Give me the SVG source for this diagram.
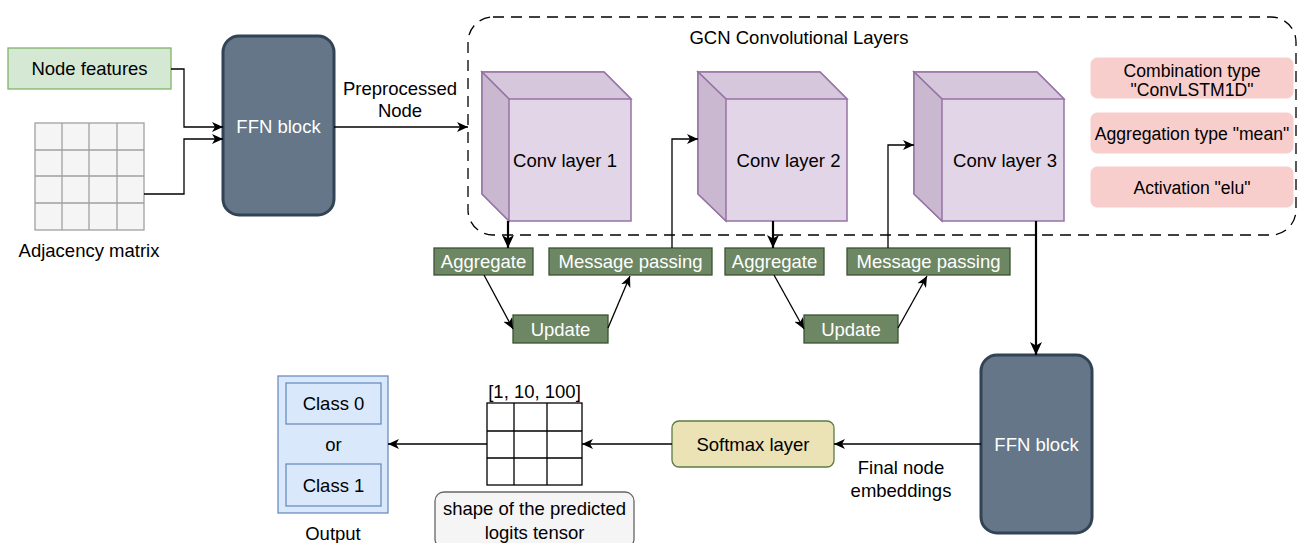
<svg xmlns="http://www.w3.org/2000/svg" width="1298" height="543" viewBox="0 0 1298 543">
<style>
text{font-family:"Liberation Sans",Arial,sans-serif;font-size:18.5px;fill:#000;text-anchor:middle}
.w{fill:#fff}
.s{font-size:17.6px}
.ffn{fill:#647687;stroke:#314354;stroke-width:3}
.grn{fill:#6d8764;stroke:#3a5431;stroke-width:1.3}
.pink{fill:#f8cecc;stroke:#f8cecc}
.cf{fill:#e1d5e7;stroke:#9673a6;stroke-width:1.5}
.ct{fill:#d6c7dc;stroke:#9673a6;stroke-width:1.5}
.cl{fill:#c9b8d0;stroke:#9673a6;stroke-width:1.5}
.c{fill:none;stroke:#000;stroke-width:1.3}
.t{fill:none;stroke:#000;stroke-width:2.2}
</style>
<defs>
<marker id="a" markerUnits="userSpaceOnUse" markerWidth="12" markerHeight="10" refX="11" refY="5" orient="auto">
<path d="M0,0 L11,5 L0,10 L3,5 z" fill="#000"/>
</marker>
<marker id="b" markerUnits="userSpaceOnUse" markerWidth="14" markerHeight="12" refX="13" refY="6" orient="auto">
<path d="M0,0 L13,6 L0,12 L3.5,6 z" fill="#000"/>
</marker>
</defs>

<rect id="gcn-frame" x="468" y="17" width="828" height="218" rx="25" fill="none" stroke="#000" stroke-width="1.3" stroke-dasharray="11,7"/>
<text x="799" y="44">GCN Convolutional Layers</text>

<g id="node-features">
<rect x="8" y="48" width="163" height="41" fill="#d5e8d4" stroke="#82b366" stroke-width="1.3"/>
<text x="89.5" y="75">Node features</text>
</g>

<g id="adjacency-matrix">
<rect x="35" y="123" width="109" height="107" fill="#f5f5f5" stroke="#a0a0a0" stroke-width="1.3"/>
<path d="M62,123V230M89,123V230M117,123V230M35,150H144M35,176H144M35,203H144" stroke="#a0a0a0" stroke-width="1.3" fill="none"/>
<text x="89" y="257">Adjacency matrix</text>
</g>

<g id="ffn1">
<rect class="ffn" x="223" y="36" width="111" height="179" rx="16"/>
<text class="w" x="278.5" y="133">FFN block</text>
</g>

<g id="conv1">
<path class="cf" d="M482,72H604L631,99V221H509L482,194Z"/>
<path class="ct" d="M482,72H604L631,99H509Z"/>
<path class="cl" d="M482,72L509,99V221L482,194Z"/>
<text x="565" y="167">Conv layer 1</text>
</g>
<g id="conv2">
<path class="cf" d="M698,72H820L847,99V221H726L698,194Z"/>
<path class="ct" d="M698,72H820L847,99H726Z"/>
<path class="cl" d="M698,72L726,99V221L698,194Z"/>
<text x="788.5" y="167">Conv layer 2</text>
</g>
<g id="conv3">
<path class="cf" d="M914,72H1037L1064,99V221H942L914,194Z"/>
<path class="ct" d="M914,72H1037L1064,99H942Z"/>
<path class="cl" d="M914,72L942,99V221L914,194Z"/>
<text x="1005" y="167">Conv layer 3</text>
</g>

<g id="combination">
<rect class="pink" x="1091" y="58" width="202" height="40" rx="6"/>
<text class="s" x="1192" y="77">Combination type</text>
<text class="s" x="1192" y="96">"ConvLSTM1D"</text>
</g>
<g id="aggregation-type">
<rect class="pink" x="1091" y="113" width="202" height="40" rx="6"/>
<text class="s" x="1192" y="139.5">Aggregation type "mean"</text>
</g>
<g id="activation">
<rect class="pink" x="1091" y="167" width="202" height="40" rx="6"/>
<text class="s" x="1192" y="193.5">Activation "elu"</text>
</g>

<g id="aggregate1">
<rect class="grn" x="434" y="248" width="99" height="27"/>
<text class="w" x="483.5" y="268">Aggregate</text>
</g>
<g id="message1">
<rect class="grn" x="549" y="248" width="163" height="27"/>
<text class="w" x="630.5" y="268">Message passing</text>
</g>
<g id="update1">
<rect class="grn" x="513" y="315" width="95" height="28"/>
<text class="w" x="560.5" y="335.5">Update</text>
</g>
<g id="aggregate2">
<rect class="grn" x="725" y="248" width="99" height="27"/>
<text class="w" x="774.5" y="268">Aggregate</text>
</g>
<g id="message2">
<rect class="grn" x="847" y="248" width="163" height="27"/>
<text class="w" x="928.5" y="268">Message passing</text>
</g>
<g id="update2">
<rect class="grn" x="804" y="315" width="94" height="28"/>
<text class="w" x="851" y="335.5">Update</text>
</g>

<g id="ffn2">
<rect class="ffn" x="981" y="355" width="111" height="178" rx="16"/>
<text class="w" x="1036.5" y="450.5">FFN block</text>
</g>

<g id="softmax">
<rect x="672" y="421" width="162" height="46" rx="7" fill="#ebe2b6" stroke="#5b7b45" stroke-width="1.3"/>
<text x="753" y="450.5">Softmax layer</text>
</g>

<g id="logits">
<text x="534.5" y="397.5">[1, 10, 100]</text>
<rect x="487" y="403" width="95" height="82" fill="#fff" stroke="#000" stroke-width="1.3"/>
<path d="M514,403V485M547,403V485M487,431H582M487,458H582" stroke="#000" stroke-width="1.3" fill="none"/>
</g>
<g id="logits-note">
<rect x="435" y="492" width="199" height="56" rx="9" fill="#f5f5f5" stroke="#666" stroke-width="1.3"/>
<text x="534.5" y="514.5">shape of the predicted</text>
<text x="534.5" y="538.5">logits tensor</text>
</g>

<g id="output">
<rect x="278" y="376" width="110" height="137" fill="#dae8fc" stroke="#6c8ebf" stroke-width="1.3"/>
<rect x="286" y="383" width="95" height="41" fill="#dae8fc" stroke="#6c8ebf" stroke-width="1.3"/>
<text x="333.5" y="410">Class 0</text>
<text x="333.5" y="451">or</text>
<rect x="286" y="464" width="95" height="42" fill="#dae8fc" stroke="#6c8ebf" stroke-width="1.3"/>
<text x="333.5" y="491.5">Class 1</text>
<text x="333" y="539.5">Output</text>
</g>

<g id="connectors">
<path class="c" d="M171,69H184V127H223" marker-end="url(#a)"/>
<path class="c" d="M144,194H184V139H223" marker-end="url(#a)"/>
<path class="c" d="M334,127H468" marker-end="url(#a)"/>
<path class="t" d="M508,221V248" marker-end="url(#b)"/>
<path class="t" d="M773,221V248" marker-end="url(#b)"/>
<path class="c" d="M484,275L513,329" marker-end="url(#a)"/>
<path class="c" d="M608,328L630,276" marker-end="url(#a)"/>
<path class="c" d="M672,248V139H698" marker-end="url(#a)"/>
<path class="c" d="M774,275L804,329" marker-end="url(#a)"/>
<path class="c" d="M898,328L927,276" marker-end="url(#a)"/>
<path class="c" d="M888,248V145H914" marker-end="url(#a)"/>
<path class="t" d="M1036,221V355" marker-end="url(#b)"/>
<path class="c" d="M981,444H834" marker-end="url(#a)"/>
<path class="c" d="M672,444H582" marker-end="url(#a)"/>
<path class="c" d="M487,444H388" marker-end="url(#a)"/>
</g>
<text x="400" y="95">Preprocessed</text>
<text x="400" y="117">Node</text>
<text x="901" y="474">Final node</text>
<text x="901" y="497">embeddings</text>
</svg>
